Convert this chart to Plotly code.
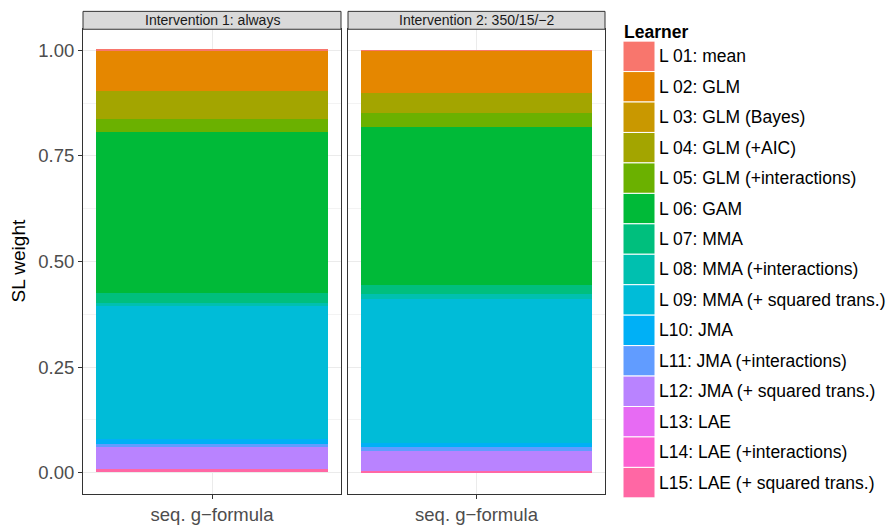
import plotly.graph_objects as go

W, H = 895, 525

learners = [
    "L 01: mean", "L 02: GLM", "L 03: GLM (Bayes)", "L 04: GLM (+AIC)",
    "L 05: GLM (+interactions)", "L 06: GAM", "L 07: MMA", "L 08: MMA (+interactions)",
    "L 09: MMA (+ squared trans.)", "L10: JMA", "L11: JMA (+interactions)",
    "L12: JMA (+ squared trans.)", "L13: LAE", "L14: LAE (+interactions)",
    "L15: LAE (+ squared trans.)",
]
colors = ["#F8766D", "#E58700", "#C99800", "#A3A500", "#6BB100", "#00BA38", "#00BF7D",
          "#00C0AF", "#00BCD8", "#00B0F6", "#619CFF", "#B983FF", "#E76BF3", "#FD61D1", "#FF67A4"]

panels = ["Intervention 1: always", "Intervention 2: 350/15/\u22122"]
category = ["seq. g\u2212formula"]

weights_int1 = [0.002, 0.098, 0.000, 0.066, 0.030, 0.382, 0.024, 0.007,
                0.314, 0.011, 0.009, 0.052, 0.000, 0.000, 0.007]
weights_int2 = [0.002, 0.099, 0.000, 0.048, 0.033, 0.375, 0.021, 0.012,
                0.340, 0.011, 0.009, 0.046, 0.000, 0.000, 0.004]

y_ticks = [0, 0.25, 0.5, 0.75, 1.0]
y_ticktext = ["0.00", "0.25", "0.50", "0.75", "1.00"]

FONT = "Liberation Sans, Arial, sans-serif"

def px_x(p):
    return p / W

def px_y(p):
    return 1 - p / H

panel_x = [(83, 341), (348, 605)]
panel_top, panel_bot = 29.6, 499.4
strip_top = 11.5

fig = go.Figure()
axes = [("x", "y"), ("x2", "y2")]
for pi, weights in enumerate([weights_int1, weights_int2]):
    xa, ya = axes[pi]
    # ggplot stacks first level on top -> add in reverse order
    for i in reversed(range(len(learners))):
        fig.add_trace(go.Bar(
            x=category, y=[weights[i]], name=learners[i],
            marker=dict(color=colors[i], line=dict(width=0)),
            xaxis=xa, yaxis=ya, showlegend=False, width=1.0,
            hovertemplate=learners[i] + ": %{y:.3f}<extra></extra>",
        ))

common_x = dict(type="category", range=[-0.554, 0.554], showgrid=True, gridcolor="#EBEBEB",
                gridwidth=1, showline=True, mirror=True, linecolor="#333333", linewidth=1,
                ticks="outside", ticklen=4, tickcolor="#333333",
                tickfont=dict(family=FONT, size=18.5, color="#4D4D4D"), zeroline=False)
common_y = dict(range=[-0.05, 1.05], tickvals=y_ticks, ticktext=y_ticktext, showgrid=True,
                gridcolor="#EBEBEB", gridwidth=1, showline=True, mirror=True,
                linecolor="#333333", linewidth=1, zeroline=False,
                minor=dict(tickvals=[0.125, 0.375, 0.625, 0.875], showgrid=True,
                           gridcolor="#F3F3F3", gridwidth=1, ticks=""),
                domain=[px_y(panel_bot), px_y(panel_top)])

fig.update_layout(
    width=W, height=H, margin=dict(l=0, r=0, t=0, b=0),
    plot_bgcolor="white", paper_bgcolor="white", barmode="stack", bargap=0,
    showlegend=False,
    font=dict(family=FONT),
    xaxis=dict(common_x, domain=[px_x(panel_x[0][0]), px_x(panel_x[0][1])], anchor="y"),
    xaxis2=dict(common_x, domain=[px_x(panel_x[1][0]), px_x(panel_x[1][1])], anchor="y2"),
    yaxis=dict(common_y, anchor="x", ticks="outside", ticklen=4, tickcolor="#333333",
               tickfont=dict(family=FONT, size=18.5, color="#4D4D4D")),
    yaxis2=dict(common_y, anchor="x2", showticklabels=False, ticks=""),
)

shapes = []
annotations = []
# facet strips
for pi, (x0, x1) in enumerate(panel_x):
    shapes.append(dict(type="rect", xref="paper", yref="paper",
                       x0=px_x(x0), x1=px_x(x1), y0=px_y(panel_top), y1=px_y(strip_top),
                       fillcolor="#D9D9D9", line=dict(color="#333333", width=1)))
    annotations.append(dict(xref="paper", yref="paper", x=px_x((x0 + x1) / 2),
                            y=px_y((strip_top + panel_top) / 2), text=panels[pi],
                            showarrow=False, xanchor="center", yanchor="middle",
                            font=dict(family=FONT, size=14, color="#1A1A1A")))

# y axis title
annotations.append(dict(xref="paper", yref="paper", x=px_x(18), y=px_y((panel_top + panel_bot) / 2),
                        text="SL weight", textangle=-90, showarrow=False,
                        xanchor="center", yanchor="middle",
                        font=dict(family=FONT, size=19, color="black")))

# legend (ggplot style)
annotations.append(dict(xref="paper", yref="paper", x=px_x(622), y=px_y(32),
                        text="<b>Learner</b>", showarrow=False, xanchor="left", yanchor="middle",
                        font=dict(family=FONT, size=17.5, color="black")))
key_x0, key_x1 = 623, 655
key_top0, key_h = 41.6, 30.8
for i, (lab, col) in enumerate(zip(learners, colors)):
    t = key_top0 + i * key_h
    shapes.append(dict(type="rect", xref="paper", yref="paper",
                       x0=px_x(key_x0), x1=px_x(key_x1), y0=px_y(t + key_h), y1=px_y(t),
                       fillcolor=col, line=dict(color="white", width=1)))
    annotations.append(dict(xref="paper", yref="paper", x=px_x(657), y=px_y(t + key_h / 2),
                            text=lab, showarrow=False, xanchor="left", yanchor="middle",
                            font=dict(family=FONT, size=17.5, color="black")))

fig.update_layout(shapes=shapes, annotations=annotations)
fig.write_html("out.html", config={"displayModeBar": False},
               post_script="document.body.style.margin='0';document.body.style.padding='0';"
                           "document.body.style.overflow='hidden';")
